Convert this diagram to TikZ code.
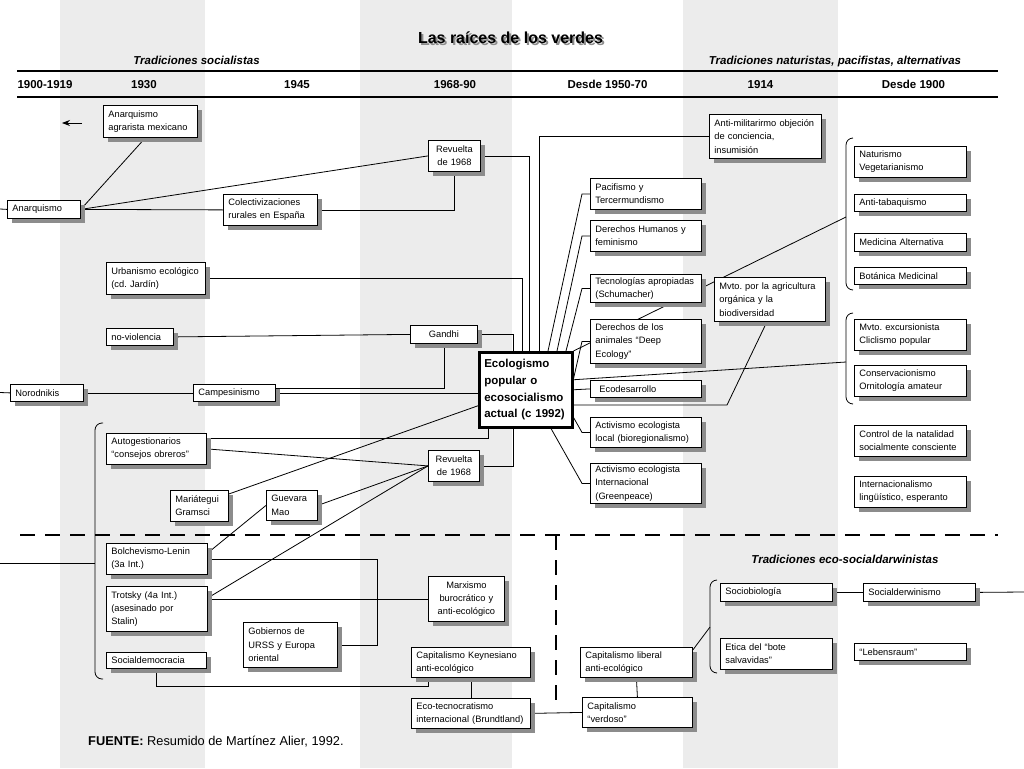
\documentclass[tikz,border=0pt]{standalone}
\usepackage{fontspec}
\setmainfont{Liberation Sans}
\usetikzlibrary{arrows.meta,shadows,backgrounds}
\pgfdeclarelayer{bands}
\pgfdeclarelayer{links}
\pgfsetlayers{bands,links,main}
\frenchspacing

\begin{document}
\begin{tikzpicture}[x=1pt, y=-1pt, >={Stealth[length=8pt,width=6pt]}]
    \tikzstyle{box} = [draw, fill=white, line width=0.8pt, anchor=north west, align=left, inner xsep=5pt, inner ysep=1pt, font=\fontsize{9.3}{13.3}\selectfont, drop shadow={shadow xshift=5pt, shadow yshift=-5pt, fill=black!45, opacity=1}]
    \tikzstyle{core} = [draw, fill=white, line width=2.5pt, anchor=north west, align=left, inner xsep=5pt, font=\fontsize{11.5}{16.7}\selectfont\bfseries]
    \tikzstyle{link} = [line width=0.8pt]
    \tikzstyle{brk} = [line width=0.8pt, rounded corners=7pt]
    \tikzstyle{cut} = [line width=2.5pt, dash pattern=on 15pt off 10pt]
    \tikzstyle{era} = [font=\fontsize{11.5}{13}\selectfont\bfseries, anchor=base]
    \tikzstyle{trad} = [font=\fontsize{11.5}{13}\selectfont\bfseries\itshape, anchor=base]
    \tikzset{sz/.style n args={3}{minimum width=#1pt, text width=#2pt, minimum height=#3pt}}

    \useasboundingbox (0,0) rectangle (1024,768);
    \begin{pgfonlayer}{bands}
        \fill[white] (0,0) rectangle (1024,768);
        \fill[gray!15] (60,0) rectangle (205,768);
        \fill[gray!15] (360,0) rectangle (512,768);
        \fill[gray!15] (683,0) rectangle (838,768);
    \end{pgfonlayer}

    \node[font=\fontsize{16}{18}\selectfont\bfseries, text=black!45] (titleshd) at (512.5,39.5) {Las raíces de los verdes};
    \node[font=\fontsize{16}{18}\selectfont\bfseries] (title) at (510.5,37.5) {Las raíces de los verdes};
    \node[trad] (tsoc) at (196.5,64) {Tradiciones socialistas};
    \node[trad] (tnat) at (835,64) {Tradiciones naturistas, pacifistas, alternativas};
    \node[trad] (tdar) at (845,563) {Tradiciones eco-socialdarwinistas};
    \draw[line width=2.5pt] (17,71) -- (998,71);
    \draw[line width=2.5pt] (17,97) -- (998,97);
    \node[era] (e1) at (45,88.5) {1900-1919};
    \node[era] (e2) at (144,88.5) {1930};
    \node[era] (e3) at (297,88.5) {1945};
    \node[era] (e4) at (455,88.5) {1968-90};
    \node[era] (e5) at (607.5,88.5) {Desde 1950-70};
    \node[era] (e6) at (760.5,88.5) {1914};
    \node[era] (e7) at (913.5,88.5) {Desde 1900};

    \node[box, sz={94}{84}{32}] (agr) at (103,105) {Anarquismo\\agrarista mexicano};
    \node[box, sz={73}{63}{18}] (anarq) at (7,200) {Anarquismo};
    \node[box, sz={94}{84}{31}] (colect) at (223,194) {Colectivizaciones\\rurales en España};
    \node[box, sz={52}{42}{31}, align=center] (rev1) at (428,140) {Revuelta\\de 1968};
    \node[box, sz={99}{89}{32}] (urb) at (106,262) {Urbanismo ecológico\\(cd. Jardín)};
    \node[box, sz={67}{57}{17}] (noviol) at (106,328) {no-violencia};
    \node[box, sz={67}{57}{18}, align=center] (gandhi) at (410,325) {Gandhi};
    \node[box, sz={73}{63}{17}] (norod) at (10,384) {Norodnikis};
    \node[box, sz={82}{72}{17}] (campes) at (193,384) {Campesinismo};
    \node[core, minimum width=93pt, text width=83pt, minimum height=75pt] (eco) at (478,351) {Ecologismo\\popular o\\ecosocialismo\\actual (c 1992)};
    \node[box, sz={100}{90}{31}] (autog) at (106,433) {Autogestionarios\\“consejos obreros”};
    \node[box, sz={51}{41}{31}, align=center] (rev2) at (428,450) {Revuelta\\de 1968};
    \node[box, sz={58}{48}{31}] (mariat) at (170,490) {Mariátegui\\Gramsci};
    \node[box, sz={51}{41}{30}] (guev) at (266,490) {Guevara\\Mao};
    \node[box, sz={101}{91}{31}] (bolch) at (106,543) {Bolchevismo-Lenin\\(3a Int.)};
    \node[box, sz={101}{91}{45}] (trot) at (106,586) {Trotsky (4a Int.)\\(asesinado por\\Stalin)};
    \node[box, sz={94}{84}{45}] (gob) at (243,622) {Gobiernos de\\URSS y Europa\\oriental};
    \node[box, sz={100}{90}{16}] (socdem) at (106,652) {Socialdemocracia};
    \node[box, sz={76}{66}{45}, align=center] (marx) at (428,576) {Marxismo\\burocrático y\\anti-ecológico};
    \node[box, sz={119}{109}{30}] (keyn) at (411,647) {Capitalismo Keynesiano\\anti-ecológico};
    \node[box, sz={119}{109}{30}] (tecno) at (411,698) {Eco-tecnocratismo\\internacional (Brundtland)};
    \node[box, sz={112}{102}{30}] (libr) at (580,647) {Capitalismo liberal\\anti-ecológico};
    \node[box, sz={110}{100}{30}] (verd) at (582,697) {Capitalismo\\“verdoso”};
    \node[box, sz={112}{102}{18}] (sbio) at (720,583) {Sociobiología};
    \node[box, sz={112}{102}{18}] (sdarw) at (863,583) {Socialderwinismo};
    \node[box, sz={112}{102}{31}] (bote) at (720,638) {Etica del “bote\\salvavidas”};
    \node[box, sz={112}{102}{17}] (lebens) at (854,643) {“Lebensraum”};
    \node[box, sz={112}{102}{44}] (antimil) at (709,114) {Anti-militarirmo objeción\\de conciencia,\\insumisión};
    \node[box, sz={111}{101}{31}] (pacif) at (590,178) {Pacifismo y\\Tercermundismo};
    \node[box, sz={111}{101}{31}] (ddhh) at (590,220) {Derechos Humanos y\\feminismo};
    \node[box, sz={111}{101}{28}] (tecap) at (590,274) {Tecnologías apropiadas\\(Schumacher)};
    \node[box, sz={111}{101}{44}] (danim) at (590,319) {Derechos de los\\animales “Deep\\Ecology”};
    \node[box, sz={111}{101}{17}] (ecodes) at (590,380) {\hspace*{4pt}Ecodesarrollo};
    \node[box, sz={111}{101}{30}] (actloc) at (590,417) {Activismo ecologista\\local (bioregionalismo)};
    \node[box, sz={111}{101}{40}] (actint) at (590,463) {Activismo ecologista\\Internacional\\(Greenpeace)};
    \node[box, sz={111}{101}{44}] (agric) at (714,277) {Mvto. por la agricultura\\orgánica y la\\biodiversidad};
    \node[box, sz={112}{102}{31}] (natur) at (854,146) {Naturismo\\Vegetarianismo};
    \node[box, sz={112}{102}{17}] (tabaq) at (854,194) {Anti-tabaquismo};
    \node[box, sz={112}{102}{18}] (medic) at (854,233) {Medicina Alternativa};
    \node[box, sz={112}{102}{17}] (botan) at (854,267) {Botánica Medicinal};
    \node[box, sz={112}{102}{31}] (excur) at (854,319) {Mvto. excursionista\\Cliclismo popular};
    \node[box, sz={112}{102}{31}] (conserv) at (854,365) {Conservacionismo\\Ornitología amateur};
    \node[box, sz={112}{102}{31}] (natal) at (854,425) {Control de la natalidad\\socialmente consciente};
    \node[box, sz={112}{102}{31}] (esper) at (854,476) {Internacionalismo\\lingüístico, esperanto};
    \node[anchor=base west, inner sep=0pt, font=\fontsize{12.8}{14}\selectfont] (src) at (88,745) {\textbf{FUENTE:} Resumido de Martínez Alier, 1992.};

    \coordinate (lftA) at (0,209);
    \coordinate (lftN) at (0,392.5);
    \coordinate (lftS) at (0,563);
    \coordinate (rgtS) at (1024,592);
    \coordinate (arrS) at (82,123);
    \coordinate (arrE) at (62,123);
    \coordinate (brL) at (95,563);
    \coordinate (brN) at (846,217);
    \coordinate (brE) at (846,362);
    \coordinate (brD) at (710,627);
    \coordinate (mvk) at (727,405);

    \draw[brk] (103,423) -- (95,423) -- (95,679) -- (103,679);
    \draw[brk] (853,138) -- (846,138) -- (846,290) -- (853,290);
    \draw[brk] (853,313) -- (846,313) -- (846,404) -- (853,404);
    \draw[brk] (717,580) -- (710,580) -- (710,673) -- (717,673);
    \draw[cut] (20,535) -- (998,535);
    \draw[cut] (556,535) -- (556,707);

    \begin{pgfonlayer}{links}
        \draw[link, ->] (arrS) -- (arrE);
        \draw[link] (lftA) -- (anarq.west);
        \draw[link] (anarq.east) -- ([xshift=-5pt]agr.south);
        \draw[link] (anarq.east) -- (rev1.west);
        \draw[link] (anarq.east) -- (colect.west);
        \draw[link] (colect.east) -| (rev1.south);
        \draw[link] (rev1.east) -| ([xshift=51pt]eco.north west);
        \draw[link] (urb.east) -| ([xshift=44pt]eco.north west);
        \draw[link] (noviol.east) -- (gandhi.west);
        \draw[link] (gandhi.east) -| ([xshift=35pt]eco.north west);
        \draw[link] (lftN) -- (norod.west);
        \draw[link] (norod.east) -- (campes.west);
        \draw[link] (campes.east) -- (campes.east -| eco.west);
        \draw[link] (gandhi.south) |- ([yshift=5pt]campes.east);
        \draw[link] ([yshift=-5pt]autog.north east) -| ([xshift=10pt]eco.south west);
        \draw[link] (autog.east) -- (rev2.west);
        \draw[link] (rev2.east) -| ([xshift=35pt]eco.south west);
        \draw[link] ([yshift=-4pt]mariat.north east) -- ([yshift=-16pt]eco.west);
        \draw[link] (guev.east) -- (rev2.west);
        \draw[link] ([yshift=6pt]bolch.east) -- (guev.west);
        \draw[link] (bolch.east) -| ([xshift=40pt]gob.east) -- (gob.east);
        \draw[link] ([yshift=11pt]trot.east) -- (rev2.west);
        \draw[link] (trot.east |- marx.west) -- (marx.west);
        \draw[link] (socdem.south) |- ([xshift=17pt,yshift=-9pt]keyn.south west) -- ([xshift=17pt]keyn.south west);
        \draw[link] (keyn.south) -- (tecno.north);
        \draw[link] (tecno.east) -- (verd.west);
        \draw[link] (libr.south) -- (verd.north);
        \draw[link] ([yshift=-3pt]libr.north east) -- (brD);
        \draw[link] (sbio.east) -- (sdarw.west);
        \draw[link] (sdarw.east) -- (rgtS);
        \draw[link] (lftS) -- (brL);
        \draw[link] (antimil.west) -| ([xshift=61pt]eco.north west);
        \draw[link] (pacif.west) -- ++(-8,0) -- ([xshift=70pt]eco.north west);
        \draw[link] (ddhh.west) -- ++(-8,0) -- ([xshift=79pt]eco.north west);
        \draw[link] (tecap.west) -- ++(-8,0) -- ([xshift=88pt]eco.north west);
        \draw[link] (danim.west) -- ++(-8,0) -- ([yshift=11pt]eco.east);
        \draw[link] (brN) -- (eco.north east);
        \draw[link] (brE) -- ([yshift=10pt]eco.east);
        \draw[link] (eco.east) -- (ecodes.west);
        \draw[link] ([xshift=-3pt]agric.south) -- (mvk) -- (mvk -| eco.east);
        \draw[link] (actloc.west) -- ++(-8,0) -- ([yshift=11pt]eco.south east);
        \draw[link] (actint.west) -- ++(-8,0) -- ([xshift=73pt]eco.south west);
    \end{pgfonlayer}
\end{tikzpicture}
\end{document}
